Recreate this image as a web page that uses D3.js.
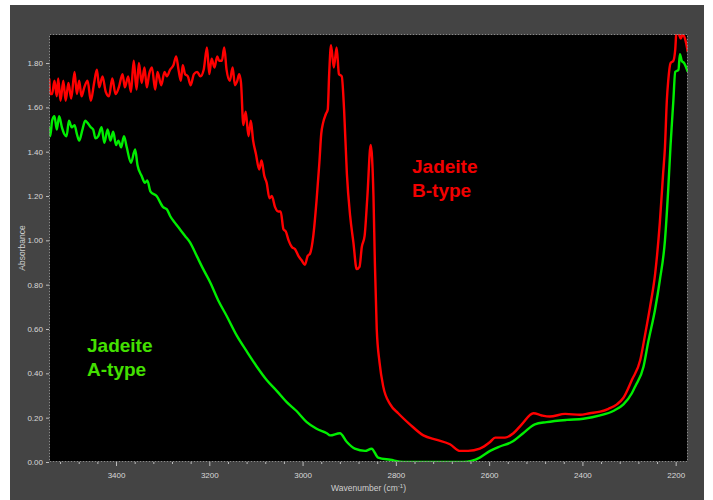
<!DOCTYPE html>
<html>
<head>
<meta charset="utf-8">
<script src="https://cdn.jsdelivr.net/npm/d3@7"></script>
<style>
  html, body { margin: 0; padding: 0; background: #fff; }
  svg { display: block; }
  .tick-label { font-family: "Liberation Sans", Arial, sans-serif; font-size: 8px; fill: #d8d8d8; }
  .axis-title { font-family: "Liberation Sans", Arial, sans-serif; font-size: 8.5px; fill: #cfcfcf; }
  .note { font-family: "Liberation Sans", Arial, sans-serif; font-size: 19px; font-weight: bold; }
</style>
</head>
<body>
<script>
// Jadeite B-type (red) spectrum
const redWavenumber = [3543, 3541, 3537, 3532, 3527, 3524, 3519, 3513, 3508, 3502, 3496, 3489, 3484, 3479, 3474, 3468, 3461, 3454, 3447, 3441,
  3436, 3429, 3422, 3415, 3408, 3401, 3394, 3386, 3381, 3374, 3368, 3362, 3356, 3351, 3345, 3339, 3334, 3329, 3323, 3316,
  3311, 3303, 3296, 3291, 3284, 3277, 3271, 3266, 3261, 3257, 3252, 3246, 3240, 3233, 3226, 3219, 3212, 3205, 3200, 3195,
  3189, 3183, 3179, 3173, 3168, 3163, 3156, 3150, 3145, 3140, 3136, 3132, 3127, 3122, 3116, 3111, 3106, 3100, 3093, 3088,
  3082, 3077, 3071, 3066, 3059, 3052, 3047, 3041, 3036, 3030, 3023, 3016, 3009, 3002, 2995, 2989, 2984, 2977, 2970, 2964,
  2960, 2956, 2950, 2946, 2943, 2939, 2933, 2927, 2922, 2916, 2911, 2905, 2898, 2891, 2884, 2878, 2873, 2867, 2861, 2854,
  2848, 2845, 2841, 2835, 2827, 2812, 2795, 2770, 2741, 2712, 2684, 2662, 2645, 2620, 2598, 2587, 2566, 2548, 2530, 2505,
  2487, 2470, 2437, 2405, 2384, 2362, 2344, 2326, 2312, 2294, 2276, 2266, 2255, 2244, 2234, 2227, 2223, 2219, 2216, 2211,
  2205, 2201, 2198, 2193, 2189, 2185, 2180, 2174];
const redAbsorbance = [1.73, 1.66, 1.66, 1.72, 1.65, 1.73, 1.63, 1.72, 1.63, 1.71, 1.64, 1.76, 1.66, 1.72, 1.65, 1.69, 1.72, 1.63, 1.71, 1.77,
  1.69, 1.74, 1.67, 1.65, 1.73, 1.66, 1.69, 1.75, 1.69, 1.74, 1.67, 1.81, 1.68, 1.80, 1.71, 1.78, 1.69, 1.75, 1.78, 1.68,
  1.76, 1.70, 1.76, 1.74, 1.77, 1.79, 1.83, 1.77, 1.72, 1.79, 1.75, 1.74, 1.70, 1.75, 1.76, 1.74, 1.77, 1.87, 1.75, 1.82,
  1.78, 1.83, 1.81, 1.81, 1.87, 1.77, 1.72, 1.78, 1.70, 1.72, 1.75, 1.71, 1.52, 1.58, 1.47, 1.54, 1.45, 1.39, 1.32, 1.36,
  1.29, 1.26, 1.19, 1.20, 1.15, 1.13, 1.13, 1.05, 1.04, 1.00, 0.97, 0.96, 0.93, 0.91, 0.89, 0.93, 0.94, 1.02, 1.18, 1.35,
  1.48, 1.53, 1.57, 1.59, 1.75, 1.88, 1.78, 1.87, 1.75, 1.74, 1.59, 1.30, 1.11, 0.99, 0.87, 0.88, 0.97, 1.02, 1.20, 1.43,
  1.20, 0.90, 0.60, 0.45, 0.34, 0.26, 0.22, 0.17, 0.12, 0.10, 0.08, 0.05, 0.05, 0.06, 0.09, 0.11, 0.11, 0.13, 0.17, 0.22,
  0.21, 0.205, 0.217, 0.213, 0.22, 0.227, 0.24, 0.26, 0.29, 0.37, 0.46, 0.57, 0.70, 0.85, 1.08, 1.30, 1.42, 1.63, 1.72, 1.80,
  1.81, 1.86, 1.95, 1.93, 1.91, 1.93, 1.91, 1.85];

// Jadeite A-type (green) spectrum
const greenWavenumber = [3543, 3541, 3537, 3532, 3527, 3522, 3516, 3511, 3506, 3501, 3495, 3489, 3484, 3479, 3472, 3466, 3461, 3454, 3449, 3444,
  3438, 3431, 3425, 3418, 3412, 3406, 3400, 3395, 3389, 3383, 3377, 3368, 3359, 3354, 3345, 3338, 3333, 3326, 3313, 3299,
  3291, 3284, 3274, 3263, 3252, 3241, 3227, 3213, 3198, 3181, 3163, 3141, 3120, 3098, 3077, 3055, 3034, 3013, 2991, 2970,
  2948, 2941, 2920, 2905, 2888, 2866, 2852, 2838, 2812, 2784, 2720, 2655, 2620, 2598, 2577, 2552, 2527, 2502, 2477, 2434,
  2398, 2362, 2334, 2312, 2294, 2287, 2269, 2259, 2244, 2234, 2223, 2216, 2211, 2205, 2201, 2194, 2191, 2187, 2182, 2174];
const greenAbsorbance = [1.51, 1.47, 1.54, 1.56, 1.50, 1.56, 1.51, 1.48, 1.47, 1.54, 1.51, 1.52, 1.48, 1.45, 1.50, 1.54, 1.53, 1.51, 1.50, 1.46,
  1.47, 1.51, 1.44, 1.50, 1.45, 1.49, 1.43, 1.45, 1.42, 1.47, 1.42, 1.35, 1.41, 1.34, 1.29, 1.26, 1.27, 1.22, 1.20, 1.15,
  1.14, 1.11, 1.08, 1.05, 1.02, 0.99, 0.93, 0.87, 0.81, 0.73, 0.66, 0.57, 0.50, 0.43, 0.37, 0.32, 0.27, 0.23, 0.18, 0.15,
  0.13, 0.12, 0.13, 0.09, 0.06, 0.05, 0.06, 0.02, 0.01, 0.00, 0.00, 0.00, 0.02, 0.05, 0.07, 0.09, 0.13, 0.17, 0.18, 0.19,
  0.195, 0.21, 0.23, 0.26, 0.31, 0.34, 0.43, 0.54, 0.69, 0.82, 1.00, 1.23, 1.43, 1.63, 1.76, 1.77, 1.84, 1.81, 1.80, 1.76];

const xMajorTicks = [3400, 3200, 3000, 2800, 2600, 2400, 2200];
const yTicks = [0, 0.2, 0.4, 0.6, 0.8, 1.0, 1.2, 1.4, 1.6, 1.8];

const W = 713, H = 500;
const panel = { left: 10, top: 5, right: 704, bottom: 500 };
const plot = { left: 49, top: 34, right: 688, bottom: 462 };

const svg = d3.select("body").append("svg")
  .attr("width", W)
  .attr("height", H);

svg.append("rect")
  .attr("x", panel.left).attr("y", panel.top)
  .attr("width", panel.right - panel.left).attr("height", panel.bottom - panel.top)
  .attr("fill", "#444444");

svg.append("rect")
  .attr("x", plot.left).attr("y", plot.top)
  .attr("width", plot.right - plot.left).attr("height", plot.bottom - plot.top)
  .attr("fill", "#000");

const x = d3.scaleLinear().domain([3543.7, 2173.6]).range([plot.left, plot.right]);
const y = d3.scaleLinear().domain([0, 1.931]).range([plot.bottom, plot.top]);

svg.append("clipPath").attr("id", "clip")
  .append("rect")
  .attr("x", plot.left).attr("y", plot.top)
  .attr("width", plot.right - plot.left).attr("height", plot.bottom - plot.top);

const line = d3.line()
  .x(d => x(d[0]))
  .y(d => y(d[1]))
  .curve(d3.curveMonotoneX);

const curves = [
  { w: greenWavenumber, a: greenAbsorbance, color: "#00ee00" },
  { w: redWavenumber, a: redAbsorbance, color: "#ff0000" }
];

svg.append("g").attr("clip-path", "url(#clip)")
  .selectAll("path")
  .data(curves)
  .enter()
  .append("path")
  .attr("d", d => line(d3.zip(d.w, d.a)))
  .attr("fill", "none")
  .attr("stroke", d => d.color)
  .attr("stroke-width", 2.4)
  .attr("stroke-linejoin", "round");

// dotted frame round the plot
svg.append("rect")
  .attr("x", plot.left + 0.5).attr("y", plot.top + 0.5)
  .attr("width", plot.right - plot.left - 1).attr("height", plot.bottom - plot.top - 1)
  .attr("fill", "none")
  .attr("stroke", "#8a8a8a")
  .attr("stroke-width", 1)
  .attr("stroke-dasharray", "2,1");

// x axis
const xAxis = d3.axisBottom(x)
  .tickValues(xMajorTicks)
  .tickSize(4)
  .tickPadding(6)
  .tickFormat(d3.format("d"));
const xMinor = d3.axisBottom(x)
  .tickValues(d3.range(3520, 2173, -40).filter(v => v % 200 !== 0))
  .tickSize(2)
  .tickFormat("");

const gx = svg.append("g").attr("transform", `translate(0,${plot.bottom})`).call(xAxis);
const gxm = svg.append("g").attr("transform", `translate(0,${plot.bottom})`).call(xMinor);
[gx, gxm].forEach(g => {
  g.select(".domain").remove();
  g.selectAll("line").attr("stroke", "#bdbdbd");
});
gx.selectAll("text").attr("class", "tick-label").attr("fill", null);

// y axis
const yAxis = d3.axisLeft(y)
  .tickValues(yTicks)
  .tickSize(3)
  .tickPadding(3)
  .tickFormat(d3.format(".2f"));
const gy = svg.append("g").attr("transform", `translate(${plot.left},0)`).call(yAxis);
gy.select(".domain").remove();
gy.selectAll("line").attr("stroke", "#bdbdbd");
gy.selectAll("text").attr("class", "tick-label").attr("fill", null);

// axis titles
const xt = svg.append("text")
  .attr("class", "axis-title")
  .attr("x", (plot.left + plot.right) / 2)
  .attr("y", 491)
  .attr("text-anchor", "middle");
xt.append("tspan").text("Wavenumber (cm");
xt.append("tspan").attr("dy", -3).attr("font-size", "6px").text("-1");
xt.append("tspan").attr("dy", 3).text(")");

svg.append("text")
  .attr("class", "axis-title")
  .attr("transform", `translate(25,${(plot.top + plot.bottom) / 2}) rotate(-90)`)
  .attr("text-anchor", "middle")
  .text("Absorbance");

// sample notes
const notes = [
  { lines: ["Jadeite", "B-type"], x: 412, y: 173, color: "#f20000" },
  { lines: ["Jadeite", "A-type"], x: 87, y: 352, color: "#44e000" }
];
notes.forEach(n => {
  const t = svg.append("text")
    .attr("class", "note")
    .attr("x", n.x).attr("y", n.y)
    .attr("fill", n.color);
  n.lines.forEach((s, i) => {
    t.append("tspan").attr("x", n.x).attr("dy", i === 0 ? 0 : 23.5).text(s);
  });
});
</script>
</body>
</html>
